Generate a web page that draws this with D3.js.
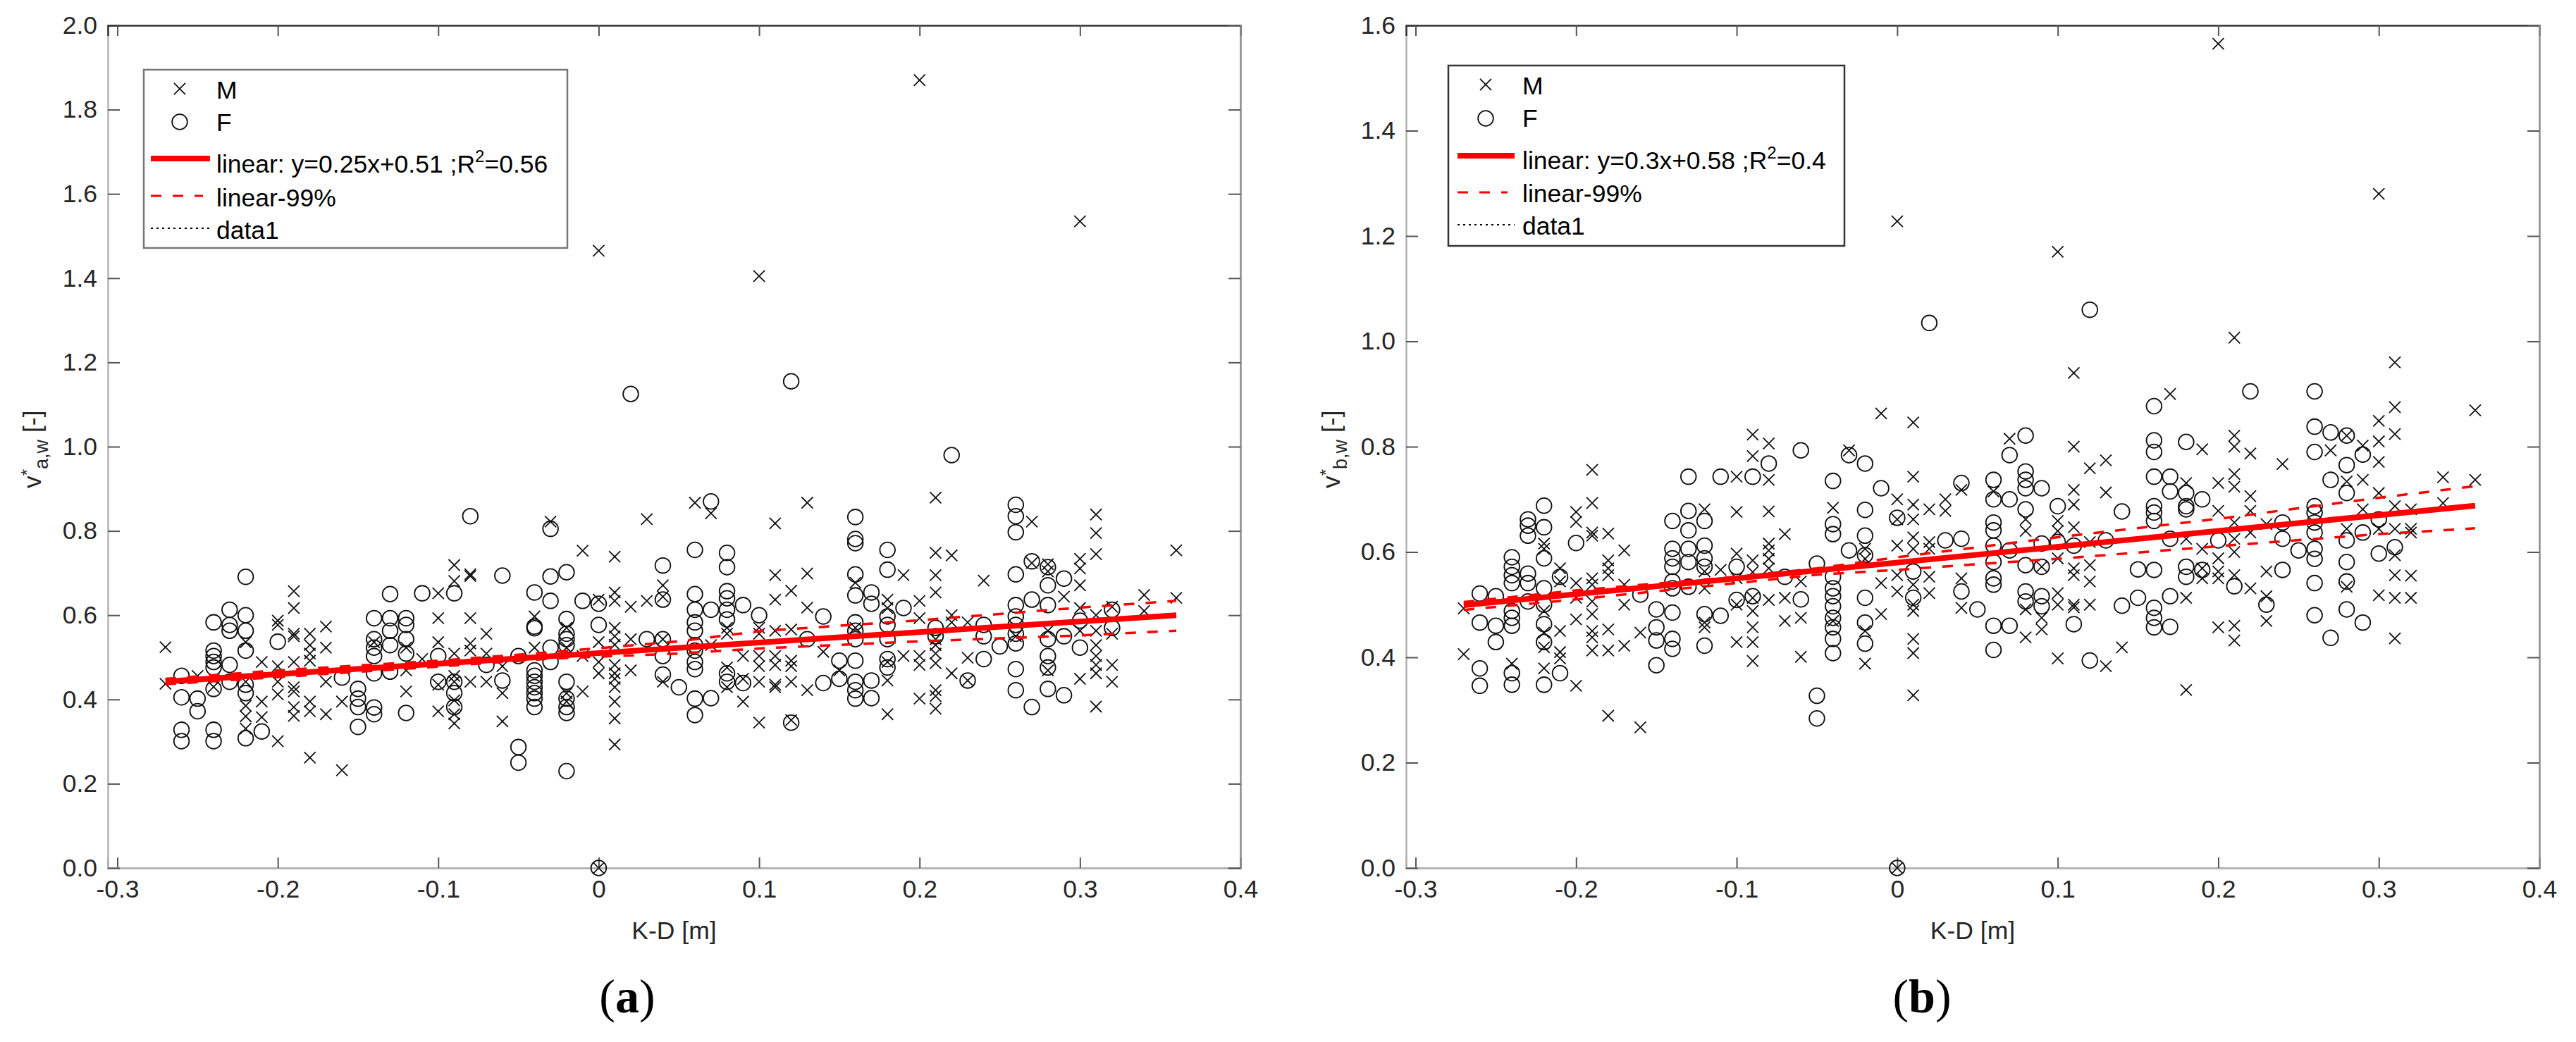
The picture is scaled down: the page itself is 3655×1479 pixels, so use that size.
<!DOCTYPE html>
<html>
<head>
<meta charset="UTF-8">
<title>K-D scatter</title>
<script src="https://d3js.org/d3.v7.min.js"></script>
<style>
	html, body { margin: 0; padding: 0; background: #fff; }
	svg { display: block; }
	text { font-family: "Liberation Sans", Arial, sans-serif; fill: #262626; }
</style>
</head>
<body>
<script>
// every row is [K-D value, [values read in that column]]
var aMale = [
[-.27,[.524,.437]],[-.25,[.456]],[-.24,[.43]],[-.22,[.536,.442,.385,.36,.331]],[-.21,[.489,.395,.358]],
[-.20,[.587,.577,.479,.442,.412,.301]],[-.19,[.657,.617,.556,.55,.489,.429,.419,.382,.361]],
[-.18,[.556,.529,.509,.492,.395,.372,.262]],[-.17,[.573,.523,.442,.365]],[-.16,[.395,.232]],[-.14,[.536]],
[-.12,[.523,.469,.419]],[-.11,[.496]],[-.10,[.652,.593,.536,.435,.372]],
[-.09,[.719,.681,.509,.456,.442,.398,.365,.343]],[-.08,[.697,.693,.593,.533,.516,.442]],[-.07,[.556,.509,.442]],
[-.06,[.479,.415,.348]],[-.04,[.597,.523]],[-.03,[.822]],[-.02,[.57,.523,.415,.395]],[-.01,[.753,.503,.419]],
[0,[1.465,.637,.536,.489,.462,0]],[.01,[.739,.654,.634,.57,.55,.53,.482,.462,.449,.429,.395,.355,.293]],
[.02,[.62,.543,.469]],[.03,[.828,.634]],[.04,[.671,.644,.543,.442]],[.06,[.867]],[.07,[.842,.529]],
[.08,[.57,.556,.476,.429]],[.09,[.503,.449,.395]],[.10,[1.405,.57,.556,.503,.479,.442,.345]],
[.11,[.818,.695,.637,.563,.503,.482,.435,.429]],[.12,[.658,.566,.492,.479,.442,.351]],[.13,[.867,.699,.618,.422]],
[.14,[.513]],[.15,[.469]],[.16,[.677,.57]],[.18,[.637,.617,.489,.445,.365]],[.19,[.695,.503]],
[.20,[1.87,.634,.593,.503,.482,.402]],[.21,[.879,.748,.695,.654,.543,.529,.509,.486,.422,.408,.378]],
[.22,[.742,.6,.583,.462]],[.23,[.583,.499,.445]],[.24,[.682]],[.26,[.55]],[.27,[.822,.724]],[.28,[.721,.704,.563,.469]],
[.29,[.644]],[.30,[1.535,.734,.711,.671,.617,.563,.449]],[.31,[.839,.795,.745,.6,.563,.529,.503,.482,.462,.383]],
[.32,[.62,.556,.482,.442]],[.34,[.648,.61]],[.36,[.754,.641]]
];
var aFemale = [
[-.26,[.456,.405,.328,.301]],[-.25,[.402,.372]],[-.24,[.583,.516,.503,.489,.476,.425,.328,.301]],
[-.23,[.613,.577,.563,.482,.442]],[-.22,[.691,.6,.563,.516,.435,.415,.308]],[-.21,[.324]],[-.20,[.537]],[-.16,[.452]],
[-.15,[.425,.402,.382,.335]],[-.14,[.593,.543,.523,.503,.462,.381,.365]],[-.13,[.65,.593,.563,.529,.466]],
[-.12,[.593,.577,.543,.509,.368]],[-.11,[.652]],[-.10,[.503,.442]],[-.09,[.652,.442,.415,.382]],[-.08,[.835]],
[-.07,[.482]],[-.06,[.694,.445]],[-.05,[.503,.287,.25]],[-.04,[.654,.573,.569,.469,.456,.442,.429,.415,.402,.382]],
[-.03,[.805,.692,.634,.523,.489]],[-.02,[.702,.591,.556,.543,.529,.442,.402,.382,.368,.23]],[-.01,[.634]],
[0,[.627,.577,0]],[.02,[1.125]],[.03,[.543]],[.04,[.718,.637,.543,.503,.459]],[.05,[.429]],
[.06,[.755,.65,.613,.583,.563,.529,.516,.489,.472,.402,.363]],[.07,[.87,.613,.403]],
[.08,[.748,.714,.657,.64,.613,.59,.462,.442]],[.09,[.624,.439]],[.10,[.6]],[.12,[1.155,.345]],[.13,[.543]],
[.14,[.597,.439]],[.15,[.492,.449]],[.16,[.833,.781,.771,.697,.647,.583,.563,.543,.492,.442,.422,.402]],
[.17,[.654,.627,.445,.403]],[.18,[.755,.708,.597,.577,.543,.496,.476]],[.19,[.617]],[.21,[.57,.55]],[.22,[.98]],
[.23,[.445]],[.24,[.577,.55,.496]],[.25,[.526]],[.26,[.862,.835,.797,.697,.624,.597,.577,.556,.533,.472,.422]],
[.27,[.728,.637,.382]],[.28,[.714,.671,.624,.543,.503,.476,.425]],[.29,[.687,.55,.41]],[.30,[.587,.523]],[.32,[.613,.57]]
];
var bMale = [
[-.27,[.493,.406]],[-.24,[.388]],[-.22,[.616,.606,.488,.447,.419,.379]],[-.21,[.569,.544,.45,.41,.398]],
[-.20,[.676,.657,.541,.513,.472,.346]],[-.19,[.756,.693,.637,.631,.55,.538,.506,.482,.45,.438,.413]],
[-.18,[.635,.584,.569,.556,.453,.413,.289]],[-.17,[.603,.538,.5,.422]],[-.16,[.447,.267]],
[-.12,[.681,.563,.531,.466,.457]],[-.11,[.566]],[-.10,[.743,.676,.597,.55,.5,.429]],
[-.09,[.823,.782,.584,.562,.513,.488,.457,.429,.393]],[-.08,[.806,.737,.677,.616,.603,.587,.569,.509]],
[-.07,[.634,.513,.469]],[-.06,[.544,.475,.401]],[-.04,[.684,.469]],[-.03,[.793]],[-.02,[.606,.587,.45,.388]],
[-.01,[.863,.541,.482]],[0,[1.228,.7,.662,.612,.556,.525,0]],[.01,[.846,.743,.69,.662,.628,.606,.538,.5,.488,.435,.408,.328]],
[.02,[.681,.619,.606,.553,.522]],[.03,[.7,.678]],[.04,[.718,.55,.494]],[.06,[.715]],[.07,[.815]],[.08,[.662,.64,.491,.438]],
[.09,[.572,.475,.453]],[.10,[1.17,.659,.64,.588,.522,.5,.398]],[.11,[.94,.8,.718,.69,.647,.569,.556,.5,.495]],
[.12,[.759,.619,.575,.544,.5]],[.13,[.774,.713,.383]],[.14,[.419]],[.17,[.9]],[.18,[.731,.625,.513,.338]],
[.19,[.795,.606,.569,.55]],[.20,[1.565,.731,.678,.588,.563,.55,.457]],[.21,[1.007,.821,.8,.748,.724,.656,.625,.6,.556,.46,.432]],
[.22,[.787,.706,.678,.637,.531]],[.23,[.653,.563,.516,.469]],[.24,[.767]],[.27,[.793]],[.28,[.821,.734,.644,.534]],
[.29,[.802,.737,.681]],[.30,[1.28,.849,.81,.771,.712,.644,.518]],[.31,[.96,.875,.824,.687,.644,.594,.556,.513,.436]],
[.32,[.681,.644,.637,.555,.513]],[.34,[.742,.693]],[.36,[.869,.737]]
];
var bFemale = [
[-.26,[.521,.466,.379,.346]],[-.25,[.516,.46,.429]],[-.24,[.59,.572,.556,.541,.488,.475,.46,.37,.348]],
[-.23,[.662,.65,.631,.559,.541,.506]],[-.22,[.688,.647,.588,.531,.5,.463,.429,.348]],[-.21,[.553,.37]],[-.20,[.617]],
[-.16,[.519]],[-.15,[.491,.457,.432,.385]],[-.14,[.659,.606,.588,.572,.544,.531,.485,.435,.416]],
[-.13,[.743,.678,.641,.606,.581,.534]],[-.12,[.659,.612,.588,.572,.482,.422]],[-.11,[.743,.479]],[-.10,[.572,.509]],
[-.09,[.743,.516]],[-.08,[.768]],[-.07,[.553]],[-.06,[.793,.51]],[-.05,[.578,.327,.284]],
[-.04,[.735,.653,.634,.553,.531,.516,.497,.475,.457,.435,.408]],[-.03,[.784,.603]],[-.02,[.768,.68,.631,.594,.513,.466,.426]],
[-.01,[.721]],[0,[.665,0]],[.01,[.563,.513]],[.02,[1.035]],[.03,[.622]],[.04,[.731,.625,.525]],[.05,[.491]],
[.06,[.737,.7,.656,.641,.612,.581,.55,.538,.46,.414]],[.07,[.784,.7,.603,.46]],[.08,[.821,.753,.737,.721,.681,.575,.525,.506]],
[.09,[.721,.616,.572,.516,.497]],[.10,[.687,.619]],[.11,[.612,.463]],[.12,[1.06,.394]],[.13,[.622]],[.14,[.677,.498]],
[.15,[.567,.513]],[.16,[.877,.812,.79,.743,.687,.675,.659,.566,.494,.475,.457]],[.17,[.743,.715,.625,.516,.458]],
[.18,[.809,.712,.687,.681,.572,.553]],[.19,[.7,.566]],[.20,[.622]],[.21,[.535]],[.22,[.905]],[.23,[.5]],[.24,[.656,.625,.566]],
[.25,[.603]],[.26,[.905,.838,.79,.687,.675,.656,.637,.606,.587,.541,.48]],[.27,[.827,.737,.437]],
[.28,[.821,.765,.712,.622,.581,.544,.491]],[.29,[.785,.637,.466]],[.30,[.662,.597]],[.31,[.609]]
];

var fitX = [-.27, .36];
var aFit = [.4425, .6];
var bFit = [.499, .688];

var aBandX = [-.27, -.2, -.1, -.03, .05, .1, .2, .3, .36];
var aUpper = [.449, .469, .492, .512, .538, .562, .588, .618, .634];
var aLower = [.436, .453, .478, .497, .509, .521, .538, .552, .563];

var bBandX = [-.27, -.2, -.1, -.05, 0, .05, .1, .2, .3, .36];
var bUpper = [.505, .527, .553, .569, .59, .609, .628, .663, .703, .725];
var bLower = [.49, .51, .541, .557, .566, .577, .587, .611, .634, .645];

var xTicks = [-.3, -.2, -.1, 0, .1, .2, .3, .4];
var xTickLabels = ["-0.3", "-0.2", "-0.1", "0", "0.1", "0.2", "0.3", "0.4"];
var aYTicks = [0, .2, .4, .6, .8, 1, 1.2, 1.4, 1.6, 1.8, 2];
var bYTicks = [0, .2, .4, .6, .8, 1, 1.2, 1.4, 1.6];

var width = 3655, height = 1479;
var FS = 35.5;

var svg = d3.select("body").append("svg").attr("width", width).attr("height", height);

var timesPath = d3.symbol(d3.symbolTimes, 170)();
var circlePath = d3.symbol(d3.symbolCircle, 370)();

function flat(rows) {
	return rows.flatMap(function (r) { return r[1].map(function (v) { return [r[0], v]; }); });
}

function panel(o) {
	var g = svg.append("g");
	var x = d3.scaleLinear().domain([-.3 - 13.5 / 2277, .4]).range([o.left, o.right]);
	var y = d3.scaleLinear().domain([0, o.yMax]).range([1232, 36]);

	// axes, ticks pointing inward on all four sides like matlab's box on
	var bottom = g.append("g").attr("transform", "translate(0,1232)")
		.call(d3.axisBottom(x).tickValues(xTicks).tickSize(-15).tickPadding(17)
			.tickFormat(function (d, i) { return xTickLabels[i]; }));
	var left = g.append("g").attr("transform", "translate(" + o.left + ",0)")
		.call(d3.axisLeft(y).tickValues(o.yTicks).tickSize(-17).tickPadding(15).tickFormat(d3.format(".1f")));
	var top = g.append("g").attr("transform", "translate(0,36)")
		.call(d3.axisTop(x).tickValues(xTicks).tickSize(-15).tickFormat(""));
	var right = g.append("g").attr("transform", "translate(" + o.right + ",0)")
		.call(d3.axisRight(y).tickValues(o.yTicks).tickSize(-17).tickFormat(""));
	[bottom, left, top, right].forEach(function (a) {
		a.selectAll("text").attr("font-size", FS).attr("font-family", null).style("fill", "#262626");
		a.selectAll(".tick line").attr("stroke", "#555").attr("stroke-width", 2);
	});
	bottom.select(".domain").attr("stroke", "#b4b4b4").attr("stroke-width", 3);
	left.select(".domain").attr("stroke", "#b4b4b4").attr("stroke-width", 2.5);
	top.select(".domain").attr("stroke", "#333").attr("stroke-width", 2.5);
	right.select(".domain").attr("stroke", "#8c8c8c").attr("stroke-width", 2.5);

	// points
	g.append("g").selectAll("path").data(flat(o.male)).join("path")
		.attr("d", timesPath).attr("fill", "none").attr("stroke", "#111").attr("stroke-width", 1.8)
		.attr("transform", function (d) { return "translate(" + x(d[0]) + "," + y(d[1]) + ")"; });
	g.append("g").selectAll("path").data(flat(o.female)).join("path")
		.attr("d", circlePath).attr("fill", "none").attr("stroke", "#111").attr("stroke-width", 1.8)
		.attr("transform", function (d) { return "translate(" + x(d[0]) + "," + y(d[1]) + ")"; });

	// fit + confidence band
	var ln = d3.line().x(function (d) { return x(d[0]); }).y(function (d) { return y(d[1]); });
	[o.upper, o.lower].forEach(function (vals) {
		g.append("path").attr("d", ln(d3.zip(o.bandX, vals)))
			.attr("fill", "none").attr("stroke", "#ff0000").attr("stroke-width", 3.5).attr("stroke-dasharray", "15 16");
	});
	g.append("path").attr("d", ln(d3.zip(fitX, o.fit)))
		.attr("fill", "none").attr("stroke", "#ff0000").attr("stroke-width", 8);

	// x label and panel letter
	g.append("text").attr("x", (o.left + o.right) / 2).attr("y", 1333).attr("text-anchor", "middle")
		.attr("font-size", FS).text("K-D [m]");
	var letter = g.append("text").attr("x", o.letterX).attr("y", 1437).attr("text-anchor", "middle")
		.attr("font-size", 68).style("font-family", "'Liberation Serif', serif").style("fill", "#000");
	letter.append("tspan").text("(");
	letter.append("tspan").attr("font-weight", "bold").text(o.letter);
	letter.append("tspan").text(")");

	// y label, built in pieces because of the super and subscript
	var yl = g.append("text").attr("transform", "translate(" + o.yLabelX + ",693) rotate(-90)");
	yl.append("tspan").attr("font-size", FS).text("v");
	yl.append("tspan").attr("font-size", 24).attr("dy", -11).text("*");
	yl.append("tspan").attr("font-size", 27).attr("dy", 21).text(o.sub);
	yl.append("tspan").attr("font-size", FS).attr("dy", -10).text(" [-]");

	// legend
	var L = o.legend, lg = g.append("g");
	lg.append("rect").attr("x", L.x0).attr("y", L.y0).attr("width", L.x1 - L.x0).attr("height", L.y1 - L.y0)
		.attr("fill", "#fff").attr("stroke", L.stroke).attr("stroke-width", 2.5);
	lg.append("path").attr("d", timesPath).attr("fill", "none").attr("stroke", "#111").attr("stroke-width", 1.8)
		.attr("transform", "translate(" + L.mx + "," + L.my[0] + ")");
	lg.append("path").attr("d", circlePath).attr("fill", "none").attr("stroke", "#111").attr("stroke-width", 1.8)
		.attr("transform", "translate(" + L.mx + "," + L.my[1] + ")");
	function legLine(yy, x2, w, dash) {
		lg.append("line").attr("x1", L.lx).attr("x2", x2).attr("y1", yy).attr("y2", yy)
			.attr("stroke", dash === "3 5" ? "#000" : "#ff0000").attr("stroke-width", w).attr("stroke-dasharray", dash);
	}
	legLine(L.ly[0], L.lx + L.lw, 8, null);
	legLine(L.ly[1], L.lx + L.lw - 10, 3, "15 16");
	legLine(L.ly[2], L.lx + L.lw, 2, "3 5");
	function legText(yy) {
		return lg.append("text").attr("x", L.tx).attr("y", yy).attr("font-size", FS).style("fill", "#000");
	}
	legText(L.ty[0]).text("M");
	legText(L.ty[1]).text("F");
	var t = legText(L.ty[2]);
	t.append("tspan").text(o.fitText);
	t.append("tspan").attr("font-size", 24).attr("dy", -15).text("2");
	t.append("tspan").attr("dy", 15).text(o.r2Text);
	legText(L.ty[3]).text("linear-99%");
	legText(L.ty[4]).text("data1");
}

panel({
	left: 153, right: 1760, yMax: 2, yTicks: aYTicks,
	male: aMale, female: aFemale, fit: aFit, bandX: aBandX, upper: aUpper, lower: aLower,
	letter: "a", letterX: 890, yLabelX: 58, sub: "a,w",
	fitText: "linear: y=0.25x+0.51 ;R", r2Text: "=0.56",
	legend: { x0: 204, x1: 805, y0: 99, y1: 352, stroke: "#777", mx: 255, my: [126, 173], lx: 214, lw: 84,
		ly: [225, 278, 324], tx: 307, ty: [140, 186, 245, 293, 339] }
});
panel({
	left: 1995, right: 3603, yMax: 1.6, yTicks: bYTicks,
	male: bMale, female: bFemale, fit: bFit, bandX: bBandX, upper: bUpper, lower: bLower,
	letter: "b", letterX: 2727, yLabelX: 1901, sub: "b,w",
	fitText: "linear: y=0.3x+0.58 ;R", r2Text: "=0.4",
	legend: { x0: 2055, x1: 2617, y0: 93, y1: 349, stroke: "#333", mx: 2108, my: [120, 168], lx: 2068, lw: 81,
		ly: [221, 273, 319], tx: 2160, ty: [134, 180, 240, 287, 333] }
});
</script>
</body>
</html>
